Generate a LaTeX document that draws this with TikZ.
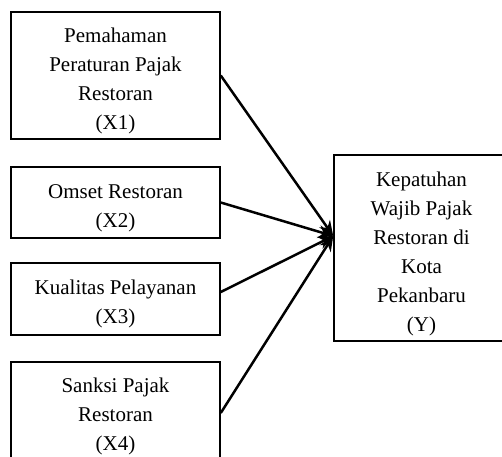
\documentclass[tikz,border=0pt]{standalone}
\usepackage{fontspec}
\setmainfont{Liberation Serif}
\usetikzlibrary{arrows.meta}
\begin{document}
\begin{tikzpicture}[x=1pt,y=-1pt,
  box/.style={draw,line width=1.5pt,inner sep=0pt},
  txt/.style={align=center,inner sep=0pt,font=\fontsize{21}{29}\selectfont},
  link/.style={line width=2.5pt,-{Stealth[length=15pt,width=13pt]}}]
\useasboundingbox (0,0) rectangle (502,456);
\clip (0,0) rectangle (502,456);
\node[box,minimum width=209pt,minimum height=127pt] (x1) at (115.5,75.5) {};
\node[box,minimum width=209pt,minimum height=71pt] (x2) at (115.5,202.5) {};
\node[box,minimum width=209pt,minimum height=72pt] (x3) at (115.5,299) {};
\node[box,minimum width=209pt,minimum height=106pt] (x4) at (115.5,415) {};
\node[box,minimum width=175pt,minimum height=186pt] (y) at (421.5,248) {};
\node[txt] (x1t) at ([yshift=-5pt]x1.center) {Pemahaman\\Peraturan Pajak\\Restoran\\(X1)};
\node[txt] (x2t) at ([yshift=-6pt]x2.center) {Omset Restoran\\(X2)};
\node[txt] (x3t) at ([yshift=-5pt]x3.center) {Kualitas Pelayanan\\(X3)};
\node[txt] (x4t) at ([yshift=-1pt]x4.center) {Sanksi Pajak\\Restoran\\(X4)};
\node[txt] (yt) at ([yshift=-6pt]y.center) {Kepatuhan\\Wajib Pajak\\Restoran di\\Kota\\Pekanbaru\\(Y)};
\coordinate (t) at ([yshift=12pt]y.west);
\draw[link] (x1.east) -- (t);
\draw[link] (x2.east) -- (t);
\draw[link] ([yshift=7pt]x3.east) -- (t);
\draw[link] ([yshift=2pt]x4.east) -- (t);
\end{tikzpicture}
\end{document}
